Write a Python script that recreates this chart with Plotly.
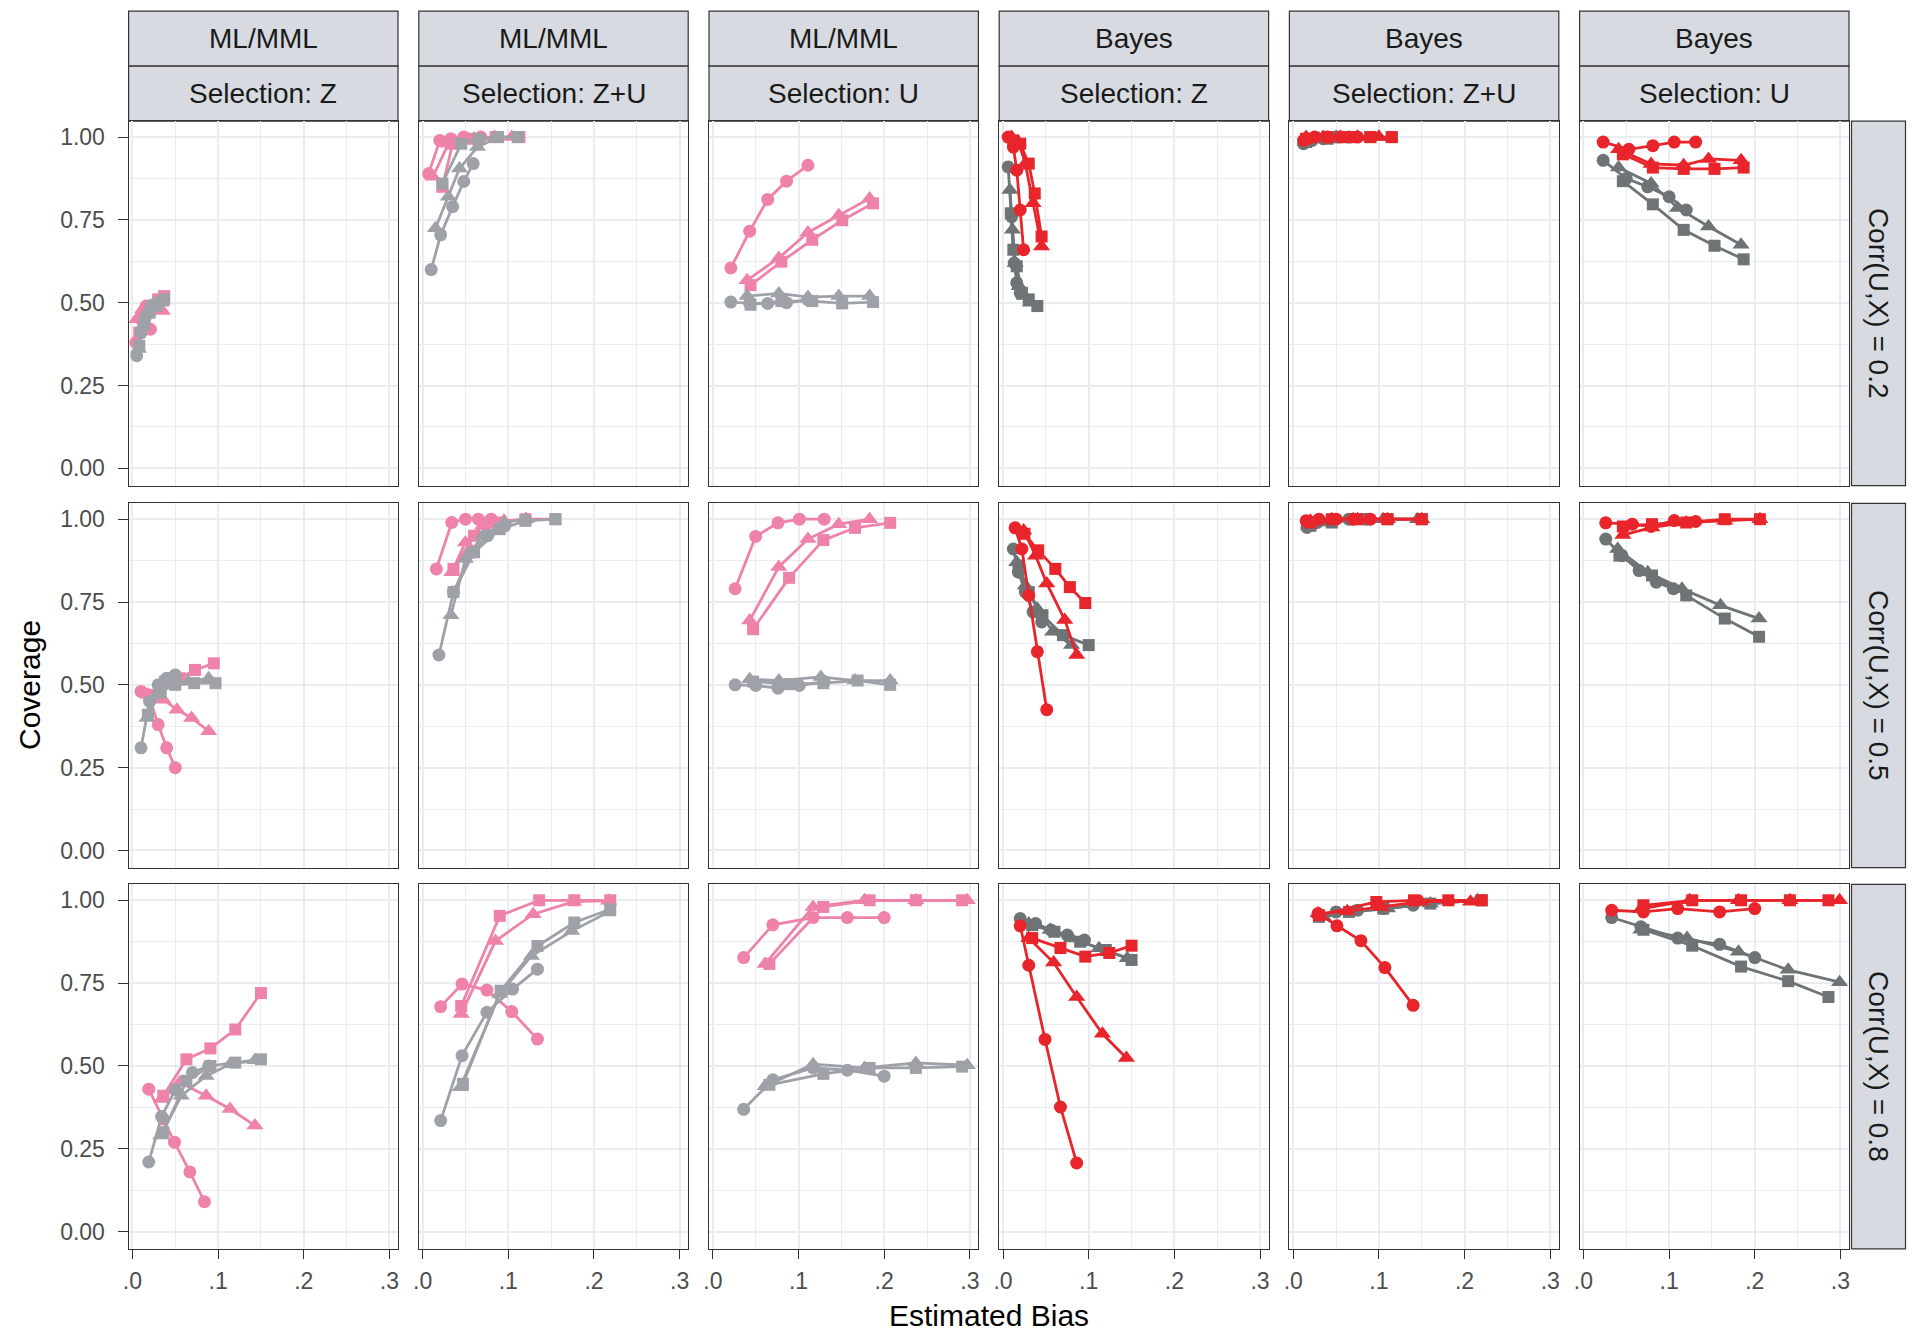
import plotly.graph_objects as go

# ---------------- data ----------------
methods = ["ML/MML", "ML/MML", "ML/MML", "Bayes", "Bayes", "Bayes"]
selections = ["Selection: Z", "Selection: Z+U", "Selection: U",
              "Selection: Z", "Selection: Z+U", "Selection: U"]
corrs = ["Corr(U,X) = 0.2", "Corr(U,X) = 0.5", "Corr(U,X) = 0.8"]
x_ticks = [0, 0.1, 0.2, 0.3]
x_ticktext = [".0", ".1", ".2", ".3"]
y_ticks = [0, 0.25, 0.5, 0.75, 1.0]
y_ticktext = ["0.00", "0.25", "0.50", "0.75", "1.00"]

# each panel: list of (colour group, shape group, bias values, coverage values)
# colour group: "est" (pink / red) or "ref" (grey); shape group: "A", "B", "C"
ml_z_02 = [
    ("est", "A", [0.004, 0.010, 0.016, 0.021], [0.38, 0.45, 0.49, 0.42]),
    ("est", "B", [0.005, 0.012, 0.020, 0.028, 0.035], [0.45, 0.48, 0.49, 0.48, 0.475]),
    ("est", "C", [0.008, 0.015, 0.022, 0.030, 0.037], [0.41, 0.47, 0.49, 0.51, 0.52]),
    ("ref", "A", [0.005, 0.010, 0.016, 0.022, 0.028], [0.34, 0.41, 0.46, 0.49, 0.50]),
    ("ref", "B", [0.007, 0.012, 0.018, 0.025, 0.033], [0.36, 0.43, 0.47, 0.49, 0.50]),
    ("ref", "C", [0.008, 0.014, 0.020, 0.028, 0.037], [0.37, 0.44, 0.47, 0.49, 0.51]),
]
ml_zu_02 = [
    ("est", "A", [0.007, 0.020, 0.033, 0.048, 0.068], [0.89, 0.99, 0.995, 1.0, 1.0]),
    ("est", "B", [0.012, 0.030, 0.060, 0.084, 0.104], [0.88, 0.98, 0.995, 1.0, 1.0]),
    ("est", "C", [0.023, 0.035, 0.055, 0.085, 0.113], [0.85, 0.98, 0.995, 1.0, 1.0]),
    ("ref", "A", [0.010, 0.021, 0.035, 0.048, 0.059], [0.60, 0.705, 0.79, 0.866, 0.92]),
    ("ref", "B", [0.015, 0.030, 0.043, 0.064, 0.085], [0.725, 0.82, 0.905, 0.97, 0.995]),
    ("ref", "C", [0.023, 0.045, 0.065, 0.088, 0.111], [0.86, 0.98, 0.995, 1.0, 1.0]),
]
ml_u_02 = [
    ("est", "A", [0.021, 0.043, 0.064, 0.086, 0.111], [0.605, 0.716, 0.812, 0.867, 0.915]),
    ("est", "B", [0.040, 0.077, 0.111, 0.147, 0.183], [0.568, 0.635, 0.712, 0.764, 0.815]),
    ("est", "C", [0.044, 0.080, 0.116, 0.151, 0.187], [0.553, 0.624, 0.690, 0.749, 0.800]),
    ("ref", "A", [0.021, 0.043, 0.064, 0.086, 0.111], [0.502, 0.498, 0.498, 0.500, 0.509]),
    ("ref", "B", [0.040, 0.077, 0.111, 0.147, 0.183], [0.520, 0.528, 0.517, 0.520, 0.520]),
    ("ref", "C", [0.044, 0.080, 0.116, 0.151, 0.187], [0.494, 0.505, 0.505, 0.498, 0.502]),
]
bayes_z_02 = [
    ("ref", "A", [0.006, 0.010, 0.013, 0.016, 0.020], [0.91, 0.76, 0.62, 0.56, 0.53]),
    ("ref", "B", [0.008, 0.011, 0.014, 0.019, 0.025, 0.032], [0.84, 0.72, 0.62, 0.55, 0.52, 0.50]),
    ("ref", "C", [0.009, 0.012, 0.016, 0.022, 0.030, 0.040], [0.77, 0.66, 0.61, 0.53, 0.51, 0.49]),
    ("est", "A", [0.006, 0.012, 0.016, 0.020, 0.024], [1.0, 0.97, 0.90, 0.78, 0.66]),
    ("est", "B", [0.010, 0.018, 0.026, 0.035, 0.045], [1.0, 0.985, 0.92, 0.80, 0.67]),
    ("est", "C", [0.012, 0.020, 0.030, 0.037, 0.045], [0.99, 0.98, 0.92, 0.83, 0.70]),
]
bayes_zu_02 = [
    ("ref", "A", [0.012, 0.022, 0.035, 0.050, 0.065], [0.98, 0.99, 0.995, 1.0, 1.0]),
    ("ref", "B", [0.014, 0.030, 0.050, 0.075, 0.100], [0.985, 0.995, 1.0, 1.0, 1.0]),
    ("ref", "C", [0.015, 0.040, 0.065, 0.090, 0.115], [0.985, 0.995, 1.0, 1.0, 1.0]),
    ("est", "A", [0.012, 0.025, 0.040, 0.055, 0.075], [0.99, 1.0, 1.0, 1.0, 1.0]),
    ("est", "B", [0.015, 0.035, 0.055, 0.075, 0.100], [1.0, 1.0, 1.0, 1.0, 1.0]),
    ("est", "C", [0.015, 0.040, 0.065, 0.090, 0.115], [0.995, 1.0, 1.0, 1.0, 1.0]),
]
bayes_u_02 = [
    ("ref", "A", [0.023, 0.050, 0.075, 0.100, 0.120], [0.93, 0.875, 0.85, 0.82, 0.78]),
    ("ref", "B", [0.041, 0.079, 0.110, 0.146, 0.184], [0.908, 0.86, 0.786, 0.73, 0.675]),
    ("ref", "C", [0.046, 0.081, 0.117, 0.153, 0.187], [0.867, 0.797, 0.72, 0.672, 0.631]),
    ("est", "A", [0.023, 0.053, 0.081, 0.106, 0.131], [0.985, 0.963, 0.974, 0.985, 0.985]),
    ("est", "B", [0.041, 0.079, 0.117, 0.146, 0.184], [0.963, 0.919, 0.915, 0.934, 0.93]),
    ("est", "C", [0.046, 0.081, 0.117, 0.153, 0.187], [0.948, 0.908, 0.904, 0.904, 0.908]),
]
ml_z_05 = [
    ("est", "A", [0.010, 0.020, 0.030, 0.040, 0.050], [0.48, 0.46, 0.38, 0.31, 0.25]),
    ("est", "B", [0.018, 0.036, 0.052, 0.069, 0.089], [0.47, 0.455, 0.425, 0.40, 0.36]),
    ("est", "C", [0.020, 0.038, 0.055, 0.073, 0.095], [0.47, 0.51, 0.52, 0.545, 0.565]),
    ("ref", "A", [0.010, 0.020, 0.030, 0.040, 0.050], [0.31, 0.45, 0.50, 0.52, 0.53]),
    ("ref", "B", [0.017, 0.030, 0.045, 0.065, 0.089], [0.40, 0.47, 0.50, 0.51, 0.52]),
    ("ref", "C", [0.018, 0.033, 0.050, 0.072, 0.097], [0.41, 0.48, 0.50, 0.505, 0.505]),
]
ml_zu_05 = [
    ("est", "A", [0.016, 0.034, 0.050, 0.065, 0.080], [0.85, 0.99, 1.0, 1.0, 1.0]),
    ("est", "B", [0.034, 0.050, 0.070, 0.095, 0.121], [0.84, 0.93, 0.98, 0.995, 1.0]),
    ("est", "C", [0.036, 0.060, 0.090, 0.120, 0.155], [0.85, 0.95, 0.99, 1.0, 1.0]),
    ("ref", "A", [0.019, 0.036, 0.057, 0.076, 0.096], [0.59, 0.78, 0.90, 0.95, 0.98]),
    ("ref", "B", [0.033, 0.050, 0.070, 0.095, 0.120], [0.71, 0.88, 0.95, 0.99, 1.0]),
    ("ref", "C", [0.036, 0.060, 0.090, 0.120, 0.155], [0.78, 0.90, 0.97, 0.995, 1.0]),
]
ml_u_05 = [
    ("est", "A", [0.026, 0.050, 0.076, 0.101, 0.130], [0.79, 0.948, 0.989, 1.0, 1.0]),
    ("est", "B", [0.043, 0.077, 0.111, 0.147, 0.183], [0.694, 0.856, 0.94, 0.985, 1.0]),
    ("est", "C", [0.047, 0.089, 0.129, 0.166, 0.207], [0.668, 0.823, 0.937, 0.974, 0.989]),
    ("ref", "A", [0.026, 0.050, 0.076, 0.101, 0.130], [0.50, 0.498, 0.49, 0.498, 0.51]),
    ("ref", "B", [0.043, 0.077, 0.126, 0.166, 0.207], [0.517, 0.513, 0.524, 0.513, 0.513]),
    ("ref", "C", [0.047, 0.089, 0.129, 0.169, 0.207], [0.51, 0.502, 0.505, 0.513, 0.50]),
]
bayes_z_05 = [
    ("ref", "A", [0.012, 0.018, 0.026, 0.035, 0.045], [0.91, 0.84, 0.78, 0.72, 0.69]),
    ("ref", "B", [0.016, 0.026, 0.040, 0.058, 0.080], [0.87, 0.80, 0.73, 0.66, 0.62]),
    ("ref", "C", [0.018, 0.030, 0.046, 0.070, 0.100], [0.86, 0.78, 0.71, 0.65, 0.62]),
    ("est", "A", [0.014, 0.022, 0.030, 0.040, 0.051], [0.974, 0.91, 0.77, 0.60, 0.425]),
    ("est", "B", [0.024, 0.038, 0.051, 0.072, 0.086], [0.966, 0.89, 0.806, 0.696, 0.59]),
    ("est", "C", [0.025, 0.041, 0.061, 0.078, 0.096], [0.956, 0.906, 0.85, 0.795, 0.747]),
]
bayes_zu_05 = [
    ("ref", "A", [0.016, 0.028, 0.045, 0.065, 0.085], [0.975, 0.99, 0.995, 1.0, 1.0]),
    ("ref", "B", [0.018, 0.040, 0.070, 0.105, 0.145], [0.98, 0.99, 1.0, 1.0, 1.0]),
    ("ref", "C", [0.020, 0.045, 0.075, 0.110, 0.150], [0.98, 0.99, 1.0, 1.0, 1.0]),
    ("est", "A", [0.015, 0.030, 0.050, 0.070, 0.090], [0.995, 1.0, 1.0, 1.0, 1.0]),
    ("est", "B", [0.020, 0.045, 0.075, 0.110, 0.150], [0.995, 1.0, 1.0, 1.0, 1.0]),
    ("est", "C", [0.020, 0.045, 0.075, 0.110, 0.150], [0.99, 1.0, 1.0, 1.0, 1.0]),
]
bayes_u_05 = [
    ("ref", "A", [0.026, 0.045, 0.065, 0.085, 0.105], [0.94, 0.89, 0.845, 0.81, 0.79]),
    ("ref", "B", [0.040, 0.075, 0.115, 0.160, 0.205], [0.91, 0.84, 0.79, 0.74, 0.70]),
    ("ref", "C", [0.042, 0.080, 0.120, 0.165, 0.205], [0.89, 0.83, 0.77, 0.70, 0.645]),
    ("est", "A", [0.026, 0.057, 0.079, 0.106, 0.131], [0.989, 0.985, 0.978, 0.996, 0.993]),
    ("est", "B", [0.046, 0.080, 0.120, 0.165, 0.206], [0.952, 0.975, 0.99, 0.995, 1.0]),
    ("est", "C", [0.046, 0.080, 0.120, 0.165, 0.206], [0.978, 0.985, 0.99, 1.0, 1.0]),
]
ml_z_08 = [
    ("est", "A", [0.019, 0.036, 0.049, 0.067, 0.084], [0.43, 0.34, 0.27, 0.18, 0.09]),
    ("est", "B", [0.034, 0.055, 0.086, 0.114, 0.143], [0.40, 0.45, 0.41, 0.37, 0.32]),
    ("est", "C", [0.036, 0.063, 0.091, 0.120, 0.150], [0.41, 0.52, 0.553, 0.61, 0.72]),
    ("ref", "A", [0.019, 0.034, 0.050, 0.070, 0.089], [0.21, 0.347, 0.428, 0.48, 0.50]),
    ("ref", "B", [0.033, 0.057, 0.086, 0.114, 0.143], [0.29, 0.41, 0.47, 0.505, 0.517]),
    ("ref", "C", [0.036, 0.063, 0.091, 0.120, 0.150], [0.30, 0.455, 0.50, 0.51, 0.52]),
]
ml_zu_08 = [
    ("est", "A", [0.021, 0.046, 0.075, 0.104, 0.134], [0.679, 0.747, 0.729, 0.664, 0.581]),
    ("est", "B", [0.045, 0.085, 0.129, 0.176, 0.217], [0.657, 0.877, 0.958, 0.996, 0.999]),
    ("est", "C", [0.045, 0.090, 0.136, 0.177, 0.219], [0.681, 0.953, 1.0, 1.0, 1.0]),
    ("ref", "A", [0.021, 0.046, 0.075, 0.105, 0.134], [0.335, 0.531, 0.662, 0.732, 0.792]),
    ("ref", "B", [0.044, 0.090, 0.127, 0.174, 0.216], [0.436, 0.717, 0.832, 0.907, 0.963]),
    ("ref", "C", [0.047, 0.091, 0.134, 0.177, 0.219], [0.446, 0.727, 0.862, 0.933, 0.973]),
]
ml_u_08 = [
    ("est", "A", [0.036, 0.070, 0.117, 0.157, 0.200], [0.827, 0.926, 0.948, 0.948, 0.948]),
    ("est", "B", [0.061, 0.117, 0.177, 0.237, 0.297], [0.808, 0.98, 1.0, 1.0, 1.0]),
    ("est", "C", [0.066, 0.129, 0.183, 0.237, 0.291], [0.808, 0.98, 1.0, 1.0, 1.0]),
    ("ref", "A", [0.036, 0.070, 0.117, 0.157, 0.200], [0.369, 0.458, 0.494, 0.487, 0.469]),
    ("ref", "B", [0.061, 0.117, 0.177, 0.237, 0.297], [0.439, 0.505, 0.494, 0.509, 0.502]),
    ("ref", "C", [0.066, 0.129, 0.183, 0.237, 0.291], [0.443, 0.476, 0.494, 0.494, 0.498]),
]
bayes_z_08 = [
    ("ref", "A", [0.020, 0.038, 0.056, 0.075, 0.095], [0.945, 0.93, 0.91, 0.895, 0.88]),
    ("ref", "B", [0.030, 0.055, 0.080, 0.112, 0.145], [0.93, 0.91, 0.885, 0.855, 0.825]),
    ("ref", "C", [0.034, 0.060, 0.090, 0.120, 0.150], [0.925, 0.905, 0.875, 0.85, 0.82]),
    ("est", "A", [0.020, 0.030, 0.049, 0.067, 0.086], [0.923, 0.804, 0.58, 0.376, 0.207]),
    ("est", "B", [0.030, 0.059, 0.086, 0.116, 0.144], [0.886, 0.812, 0.708, 0.597, 0.524]),
    ("est", "C", [0.034, 0.067, 0.096, 0.124, 0.150], [0.886, 0.856, 0.83, 0.841, 0.863]),
]
bayes_zu_08 = [
    ("ref", "A", [0.029, 0.050, 0.075, 0.105, 0.140], [0.955, 0.965, 0.97, 0.975, 0.985]),
    ("ref", "B", [0.035, 0.070, 0.110, 0.160, 0.215], [0.95, 0.965, 0.975, 0.99, 1.0]),
    ("ref", "C", [0.030, 0.065, 0.105, 0.160, 0.220], [0.95, 0.965, 0.975, 0.99, 1.0]),
    ("est", "A", [0.029, 0.051, 0.079, 0.107, 0.140], [0.96, 0.923, 0.878, 0.797, 0.683]),
    ("est", "B", [0.029, 0.063, 0.103, 0.149, 0.207], [0.96, 0.967, 0.98, 0.996, 0.996]),
    ("est", "C", [0.030, 0.097, 0.141, 0.181, 0.220], [0.955, 0.995, 1.0, 1.0, 1.0]),
]
bayes_u_08 = [
    ("ref", "A", [0.033, 0.067, 0.110, 0.159, 0.200], [0.948, 0.92, 0.886, 0.867, 0.827]),
    ("ref", "B", [0.067, 0.121, 0.181, 0.239, 0.299], [0.911, 0.886, 0.845, 0.79, 0.753]),
    ("ref", "C", [0.070, 0.127, 0.184, 0.239, 0.286], [0.911, 0.863, 0.80, 0.756, 0.708]),
    ("est", "A", [0.033, 0.070, 0.110, 0.159, 0.200], [0.97, 0.965, 0.975, 0.965, 0.975]),
    ("est", "B", [0.067, 0.124, 0.181, 0.241, 0.299], [0.974, 1.0, 1.0, 1.0, 1.0]),
    ("est", "C", [0.070, 0.127, 0.184, 0.241, 0.286], [0.985, 1.0, 1.0, 1.0, 1.0]),
]

panels = [
    [ml_z_02, ml_zu_02, ml_u_02, bayes_z_02, bayes_zu_02, bayes_u_02],
    [ml_z_05, ml_zu_05, ml_u_05, bayes_z_05, bayes_zu_05, bayes_u_05],
    [ml_z_08, ml_zu_08, ml_u_08, bayes_z_08, bayes_zu_08, bayes_u_08],
]

# ---------------- styles ----------------
W, H = 1920, 1334
FONT = "Liberation Sans, Arial, sans-serif"
col_colors = {
    "ML/MML": {"est": "#EE82A8", "ref": "#9EA2A8"},
    "Bayes": {"est": "#E8252B", "ref": "#6E7476"},
}
symbols = {"A": "circle", "B": "triangle-up", "C": "square"}
sizes = {"A": 13, "B": 15, "C": 12}
STRIP_FILL = "#D7DAE0"
BORDER = "#333333"
GRID = "#EBECEF"
TICK_FS = 23
STRIP_FS = 28
TITLE_FS = 30

panel_left = [128.6, 418.8, 709.0, 999.2, 1289.4, 1579.6]
panel_w = 269.4
panel_top = [121.2, 503.3, 884.4]
panel_h = 364.4
strip_h = 55.0
rstrip_x0, rstrip_x1 = 1851.5, 1905.5

XR = [-0.0045, 0.31]
YR = [-0.052, 1.048]

fig = go.Figure()
layout = dict(
    width=W, height=H, margin=dict(l=0, r=0, t=0, b=0, pad=0, autoexpand=False),
    paper_bgcolor="white", plot_bgcolor="white", showlegend=False,
    font=dict(family=FONT, color="#1A1A1A"),
)
shapes = []
annotations = []

for r in range(3):
    for c in range(6):
        n = r * 6 + c + 1
        xa = "x" if n == 1 else f"x{n}"
        ya = "y" if n == 1 else f"y{n}"
        x0 = panel_left[c] / W
        x1 = (panel_left[c] + panel_w) / W
        y1 = 1 - panel_top[r] / H
        y0 = 1 - (panel_top[r] + panel_h) / H
        xkey = "xaxis" if n == 1 else f"xaxis{n}"
        ykey = "yaxis" if n == 1 else f"yaxis{n}"
        layout[xkey] = dict(
            domain=[x0, x1], anchor=ya, range=XR, automargin=False,
            tickvals=x_ticks, ticktext=x_ticktext,
            showticklabels=(r == 2), ticks="outside" if r == 2 else "",
            ticklen=9, tickwidth=1.3, tickcolor=BORDER, ticklabelstandoff=2,
            tickfont=dict(size=TICK_FS, color="#4D4D4D", family=FONT),
            showgrid=True, gridcolor=GRID, gridwidth=2.2,
            minor=dict(tickvals=[0.05, 0.15, 0.25], showgrid=True,
                       gridcolor=GRID, gridwidth=1.1, ticks=""),
            showline=True, mirror=True, linecolor=BORDER, linewidth=1.2,
            zeroline=False, fixedrange=True,
        )
        layout[ykey] = dict(
            domain=[y0, y1], anchor=xa, range=YR, automargin=False,
            tickvals=y_ticks, ticktext=y_ticktext,
            showticklabels=(c == 0), ticks="outside" if c == 0 else "",
            ticklen=10, tickwidth=1.3, tickcolor=BORDER, ticklabelstandoff=8,
            tickfont=dict(size=TICK_FS, color="#4D4D4D", family=FONT),
            showgrid=True, gridcolor=GRID, gridwidth=2.2,
            minor=dict(tickvals=[0.125, 0.375, 0.625, 0.875], showgrid=True,
                       gridcolor=GRID, gridwidth=1.1, ticks=""),
            showline=True, mirror=True, linecolor=BORDER, linewidth=1.2,
            zeroline=False, fixedrange=True,
        )
        cmap = col_colors[methods[c]]
        for grp, shp, xs, ys in panels[r][c]:
            fig.add_trace(go.Scatter(
                x=xs, y=ys, xaxis=xa, yaxis=ya, mode="lines+markers",
                line=dict(color=cmap[grp], width=2.8),
                marker=dict(color=cmap[grp], symbol=symbols[shp],
                            size=sizes[shp], line=dict(width=0)),
                hoverinfo="skip", cliponaxis=False,
            ))

# column strips
for c in range(6):
    for k, (label, ytop) in enumerate([(methods[c], panel_top[0] - 2 * strip_h),
                                        (selections[c], panel_top[0] - strip_h)]):
        shapes.append(dict(
            type="rect", xref="paper", yref="paper",
            x0=panel_left[c] / W, x1=(panel_left[c] + panel_w) / W,
            y0=1 - (ytop + strip_h) / H, y1=1 - ytop / H,
            fillcolor=STRIP_FILL, line=dict(color=BORDER, width=1.2), layer="below",
        ))
        annotations.append(dict(
            text=label, xref="paper", yref="paper", showarrow=False,
            x=(panel_left[c] + panel_w / 2) / W, y=1 - (ytop + strip_h / 2) / H,
            xanchor="center", yanchor="middle",
            font=dict(size=STRIP_FS, color="#1A1A1A", family=FONT),
        ))

# row strips
for r in range(3):
    shapes.append(dict(
        type="rect", xref="paper", yref="paper",
        x0=rstrip_x0 / W, x1=rstrip_x1 / W,
        y0=1 - (panel_top[r] + panel_h) / H, y1=1 - panel_top[r] / H,
        fillcolor=STRIP_FILL, line=dict(color=BORDER, width=1.2), layer="below",
    ))
    annotations.append(dict(
        text=corrs[r], xref="paper", yref="paper", showarrow=False, textangle=90,
        x=(rstrip_x0 + rstrip_x1) / 2 / W, y=1 - (panel_top[r] + panel_h / 2) / H,
        xanchor="center", yanchor="middle",
        font=dict(size=STRIP_FS, color="#1A1A1A", family=FONT),
    ))

# axis titles
annotations.append(dict(
    text="Estimated Bias", xref="paper", yref="paper", showarrow=False,
    x=(panel_left[0] + panel_left[5] + panel_w) / 2 / W, y=1 - 1315 / H,
    xanchor="center", yanchor="middle",
    font=dict(size=TITLE_FS, color="#000000", family=FONT),
))
annotations.append(dict(
    text="Coverage", xref="paper", yref="paper", showarrow=False, textangle=-90,
    x=29 / W, y=1 - (panel_top[0] + panel_top[2] + panel_h) / 2 / H,
    xanchor="center", yanchor="middle",
    font=dict(size=TITLE_FS, color="#000000", family=FONT),
))

layout["shapes"] = shapes
layout["annotations"] = annotations
fig.update_layout(**layout)
fig.write_html("out.html", config={"displayModeBar": False},
               post_script="document.body.style.margin='0px';")
